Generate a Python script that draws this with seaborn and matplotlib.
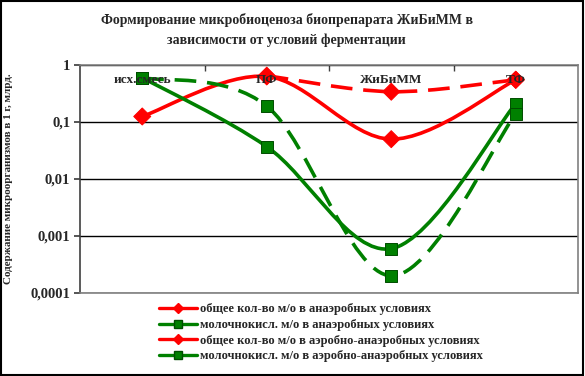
import matplotlib
matplotlib.use("Agg")
import matplotlib.pyplot as plt
import numpy as np
import pandas as pd
import seaborn as sns
from matplotlib.lines import Line2D
from matplotlib.patches import PathPatch, Rectangle
from matplotlib.path import Path
from matplotlib.ticker import FixedLocator, FixedFormatter

categories = ["исх.смесь", "ПФ", "ЖиБиММ", "ТФ"]
series_names = [
    "общее кол-во м/о в анаэробных условиях",
    "молочнокисл. м/о в анаэробных условиях",
    "общее кол-во м/о в аэробно-анаэробных условиях",
    "молочнокисл. м/о в аэробно-анаэробных условиях",
]
total_anaer = [0.125, 0.63, 0.05, 0.55]
lactic_anaer = [0.6, 0.037, 0.0006, 0.21]
total_aer = [np.nan, 0.65, 0.34, 0.55]
lactic_aer = [0.6, 0.19, 0.0002, 0.14]

values = [total_anaer, lactic_anaer, total_aer, lactic_aer]
colors = ["#ff0000", "#008000", "#ff0000", "#008000"]
edge_colors = ["#ff0000", "#004d00", "#ff0000", "#004d00"]
markers = ["D", "s", "D", "s"]
dashed = [False, False, True, True]

rows = []
for name, vals in zip(series_names, values):
    for i, v in enumerate(vals):
        if not np.isnan(v):
            rows.append({"series": name, "pos": i, "val": v})
df = pd.DataFrame(rows)


def smooth_path(xs, ys):
    # Excel-style smoothed line: Catmull-Rom as cubic Bezier in log space
    ly = np.log10(ys)
    pts = np.column_stack([xs, ly])
    verts = [pts[0]]
    codes = [Path.MOVETO]
    n = len(pts)
    for k in range(n - 1):
        p0 = pts[max(k - 1, 0)]
        p1 = pts[k]
        p2 = pts[k + 1]
        p3 = pts[min(k + 2, n - 1)]
        c1 = p1 + (p2 - p0) / 6.0
        c2 = p2 - (p3 - p1) / 6.0
        verts += [c1, c2, p2]
        codes += [Path.CURVE4] * 3
    verts = np.array(verts)
    verts[:, 1] = 10 ** verts[:, 1]
    return Path(verts, codes)


sns.set_theme(style="white")
plt.rcParams["font.family"] = ["Liberation Serif", "DejaVu Serif"]
plt.rcParams["font.weight"] = "bold"

fig = plt.figure(figsize=(5.85, 3.76), dpi=100)
ax = fig.add_axes([80 / 585, 1 - 293 / 376, 498 / 585, 228 / 376])
ax.set_yscale("log")

for name, col, dsh in zip(series_names, colors, dashed):
    sub = df[df["series"] == name]
    p = smooth_path(sub["pos"].values.astype(float), sub["val"].values)
    patch = PathPatch(p, facecolor="none", edgecolor=col, lw=2.6,
                      linestyle=(0, (6, 3)) if dsh else "-", zorder=3,
                      capstyle="butt")
    ax.add_patch(patch)

sns.scatterplot(data=df, x="pos", y="val", hue="series", style="series",
                palette=dict(zip(series_names, colors)),
                markers=dict(zip(series_names, markers)),
                s=75, linewidth=0.7, legend=False, ax=ax, zorder=4)
ecs = [dict(zip(series_names, edge_colors))[s] for s in df["series"]]
ax.collections[-1].set_edgecolor(ecs)

ax.set_xlim(-0.5, 3.5)
ax.set_ylim(0.0001, 1)
ax.yaxis.set_major_locator(FixedLocator([1e-4, 1e-3, 1e-2, 1e-1, 1]))
ax.yaxis.set_major_formatter(FixedFormatter(["0,0001", "0,001", "0,01", "0,1", "1"]))
ax.yaxis.set_minor_locator(FixedLocator([]))
ax.grid(axis="y", color="black", lw=1)
ax.tick_params(axis="y", labelsize=10.5, length=4, direction="out", left=True, color="#404040", pad=3)
for lab in ax.get_yticklabels():
    lab.set_fontweight("bold")

ax.set_xticks([])
ax.set_xticks([0.5, 1.5, 2.5], minor=True)
ax.tick_params(axis="x", which="minor", top=True, bottom=False, direction="in", length=4, color="#404040")
ax.set_xlabel("")
ax.set_ylabel("Содержание микроорганизмов в 1 г, млрд.", fontsize=8, fontweight="bold")
ax.yaxis.set_label_coords(-0.135, 0.5)

for i, c in enumerate(categories):
    ax.text(i, 0.55, c, ha="center", va="center", fontsize=9.5, fontweight="bold", zorder=5)

for s in ax.spines.values():
    s.set_color("#808080")
    s.set_linewidth(1.2)
ax.spines["left"].set_color("#404040")

fig.text(0.49, 1 - 20 / 376, "Формирование микробиоценоза биопрепарата ЖиБиММ в",
         ha="center", va="center", fontsize=10, fontweight="bold")
fig.text(0.49, 1 - 40 / 376, "зависимости от условий ферментации",
         ha="center", va="center", fontsize=10, fontweight="bold")

handles = [Line2D([], [], color=c, lw=2.4, marker=m, markersize=5 if m == "D" else 6,
                  markeredgecolor=ec)
           for c, m, ec in zip(colors, markers, edge_colors)]
leg = fig.legend(handles, series_names, loc="upper left",
                 bbox_to_anchor=(148 / 585, 1 - 292 / 376), frameon=False,
                 fontsize=9, handlelength=3.0, handletextpad=0.3, labelspacing=0.3)
for t in leg.get_texts():
    t.set_fontweight("bold")

fig.add_artist(Rectangle((0.002, 0.003), 0.995, 0.994, transform=fig.transFigure,
                         fill=False, edgecolor="black", lw=1.5))

fig.savefig("out.png", dpi=100)
